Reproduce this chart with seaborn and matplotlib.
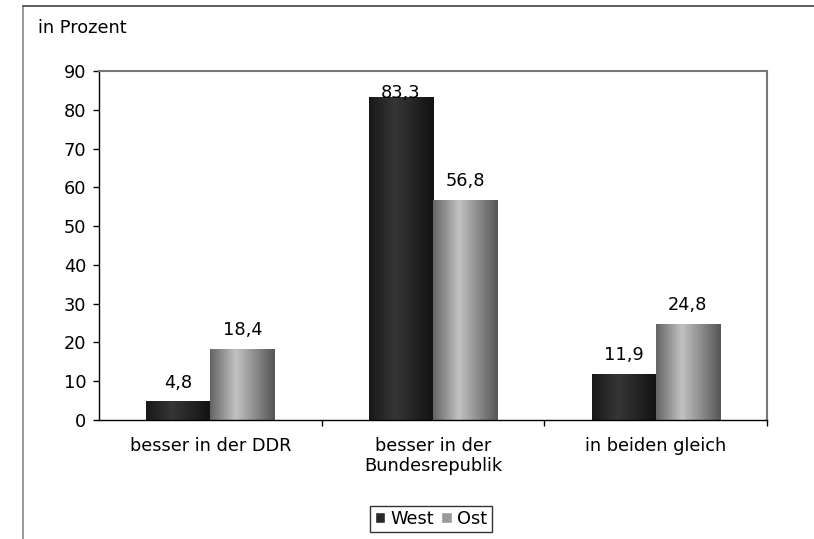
import numpy as np
import pandas as pd
import seaborn as sns
import matplotlib.pyplot as plt
from matplotlib.colors import LinearSegmentedColormap
from matplotlib.lines import Line2D
from matplotlib.patches import Rectangle

categories = ['besser in der DDR', 'besser in der\nBundesrepublik', 'in beiden gleich']
west = [4.8, 83.3, 11.9]
ost = [18.4, 56.8, 24.8]
series = ['West', 'Ost']

df = pd.DataFrame({
    'Kategorie': categories * 2,
    'Wert': west + ost,
    'Gruppe': ['West'] * 3 + ['Ost'] * 3,
})

sns.set_style('white')
plt.rcParams['font.family'] = ['DejaVu Sans']
plt.rcParams['text.color'] = 'black'
plt.rcParams['xtick.color'] = 'black'
plt.rcParams['ytick.color'] = 'black'
plt.rcParams['xtick.labelcolor'] = 'black'
plt.rcParams['ytick.labelcolor'] = 'black'
fs = 12.8

fig = plt.figure(figsize=(8.14, 5.39), dpi=100)
ax = fig.add_axes([99 / 814, 1 - 420 / 539, (767 - 99) / 814, (420 - 71) / 539])

sns.barplot(data=df, x='Kategorie', y='Wert', hue='Gruppe', hue_order=series,
            width=0.575, palette=['#2a2a2a', '#a0a0a0'], ax=ax, legend=False)

ax.set_xlim(-0.5, 2.5)
ax.set_ylim(0, 90)

# horizontal gradients inside the bars
cmaps = {
    'West': LinearSegmentedColormap.from_list('w', [(0, '#181818'), (0.4, '#363636'), (1, '#121212')]),
    'Ost': LinearSegmentedColormap.from_list('o', [(0, '#646464'), (0.4, '#c2c2c2'), (1, '#555555')]),
}
grad = np.linspace(0, 1, 256).reshape(1, -1)
for cont, name in zip(ax.containers, series):
    vals = west if name == 'West' else ost
    for bar, v in zip(cont, vals):
        x0, y0 = bar.get_x(), bar.get_y()
        w, h = bar.get_width(), bar.get_height()
        bar.set_facecolor('none')
        bar.set_edgecolor('none')
        im = ax.imshow(grad, cmap=cmaps[name], aspect='auto',
                       extent=(x0, x0 + w, y0, y0 + h), zorder=2)
        im.set_clip_path(bar)
        # label kept inside the plot area when the bar is near the top
        pad = 7 if v < 80 else -3.5
        ax.annotate(f'{v:.1f}'.replace('.', ','), (x0 + w / 2, y0 + h),
                    xytext=(0, pad), textcoords='offset points',
                    ha='center', va='bottom', fontsize=fs, zorder=3)

ax.set_yticks(range(0, 91, 10))
ax.set_xlabel('')
ax.set_ylabel('')
ax.tick_params(axis='y', which='major', direction='out', length=4, width=1,
               labelsize=fs, pad=5, left=True)
ax.tick_params(axis='x', which='major', length=0, labelsize=fs, pad=12)
ax.set_xticks([0.5, 1.5, 2.5], minor=True)
ax.tick_params(axis='x', which='minor', direction='out', length=4, width=1,
               bottom=True)

for side in ['left', 'bottom']:
    ax.spines[side].set_color('black')
    ax.spines[side].set_linewidth(1)
for side in ['top', 'right']:
    ax.spines[side].set_color('#777777')
    ax.spines[side].set_linewidth(1.5)

fig.text(38 / 814, 1 - 28 / 539, 'in Prozent', fontsize=fs, va='center', ha='left')

# outer frame
fig.add_artist(Line2D([23 / 814, 23 / 814], [0, 1 - 6 / 539], transform=fig.transFigure,
                      color='#888888', lw=1.2))
fig.add_artist(Line2D([23 / 814, 1], [1 - 6 / 539, 1 - 6 / 539], transform=fig.transFigure,
                      color='#444444', lw=1.2))

handles = [Rectangle((0, 0), 1, 1, facecolor='#2a2a2a'),
           Rectangle((0, 0), 1, 1, facecolor='#9a9a9a')]
fig.legend(handles, series, loc='center', bbox_to_anchor=(431 / 814, 1 - 519 / 539),
           ncol=2, frameon=True, fancybox=False, edgecolor='black', fontsize=fs,
           handlelength=0.6, handleheight=0.6, handletextpad=0.3, columnspacing=0.4,
           borderpad=0.25, borderaxespad=0)

fig.savefig('out.png', dpi=100)
